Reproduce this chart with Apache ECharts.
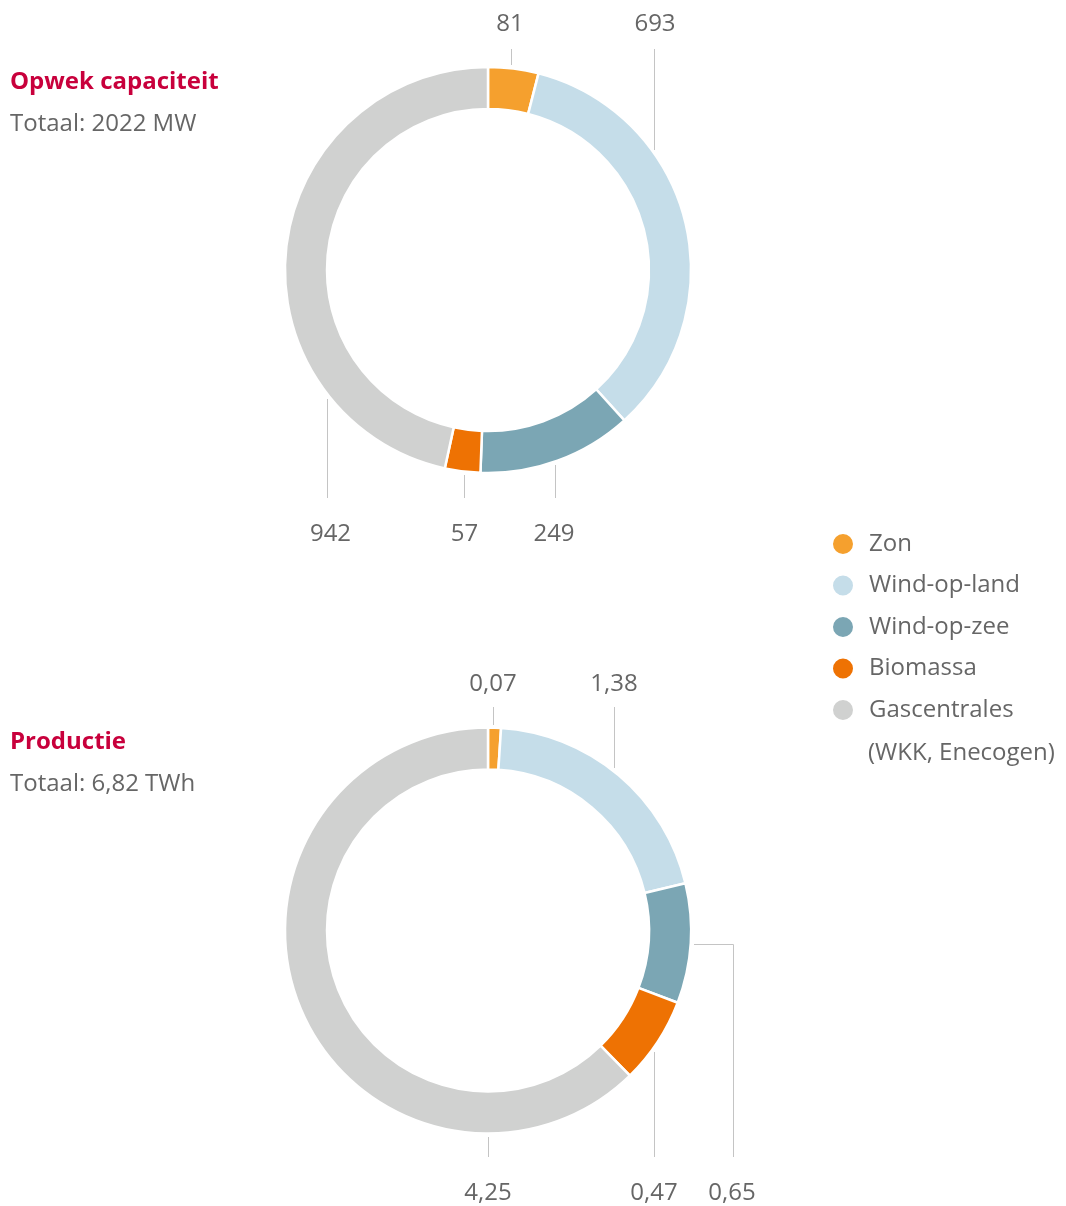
<!DOCTYPE html>
<html>
<head>
<meta charset="utf-8">
<script src="https://cdn.jsdelivr.net/npm/echarts@6/dist/echarts.min.js"></script>
<style>
html,body{margin:0;padding:0;background:#fff;}
#chart{width:1066px;height:1206px;}
</style>
</head>
<body>
<div id="chart"></div>
<script>
// ---- data ----
const categories = ['Zon', 'Wind-op-land', 'Wind-op-zee', 'Biomassa', 'Gascentrales'];
const capacityValues = [81, 693, 249, 57, 942];          // MW
const productionValues = [0.07, 1.38, 0.65, 0.47, 4.25]; // TWh
const capacityTitle = 'Opwek capaciteit';
const productionTitle = 'Productie';
const legendExtraLine = '(WKK, Enecogen)';

// ---- styles / layout ----
const colors = ['#f5a02e', '#c5dde9', '#7ba6b4', '#ee7203', '#d0d1d0'];
const FONT = '"Open Sans", "Noto Sans", sans-serif';
const FS = 24;
const TXT = '#666666';
const LINE = '#c4c4c4';

// label anchor layout (annotation positions, not marks)
const capacityGuides = [
  {lx: 510, ly: 24,  pts: [[511.5, 65], [511.5, 57], [511.5, 49]]},
  {lx: 655, ly: 24,  pts: [[654.5, 150], [654.5, 100], [654.5, 49]]},
  {lx: 554, ly: 534, pts: [[555.5, 465], [555.5, 480], [555.5, 498]]},
  {lx: 464.5, ly: 534, pts: [[464.5, 475], [464.5, 486], [464.5, 498]]},
  {lx: 330.5, ly: 534, pts: [[327.5, 399], [327.5, 450], [327.5, 498]]}
];
const productionGuides = [
  {lx: 493, ly: 684, pts: [[493.5, 725], [493.5, 716], [493.5, 707]]},
  {lx: 614, ly: 684, pts: [[614.5, 768], [614.5, 740], [614.5, 707]]},
  {lx: 732, ly: 1193, pts: [[694, 944.5], [733.5, 944.5], [733.5, 1157]]},
  {lx: 654, ly: 1193, pts: [[654.5, 1052], [654.5, 1100], [654.5, 1157]]},
  {lx: 488, ly: 1193, pts: [[488.5, 1137], [488.5, 1147], [488.5, 1157]]}
];

const fmtInt = v => String(v);
const fmtDec = v => v.toFixed(2).replace('.', ',');

const capTotal = capacityValues.reduce((a, b) => a + b, 0);
const prodTotal = productionValues.reduce((a, b) => a + b, 0);

function pieSeries(name, values, centerY, guides, fmt) {
  return {
    name: name,
    type: 'pie',
    center: [488, centerY],
    radius: [161, 203],
    startAngle: 90,
    clockwise: true,
    avoidLabelOverlap: false,
    silent: true,
    animation: false,
    emphasis: {disabled: true},
    itemStyle: {borderColor: '#ffffff', borderWidth: 2.5},
    label: {
      show: true,
      position: 'outside',
      formatter: p => fmt(p.value),
      fontFamily: FONT,
      fontSize: FS,
      color: TXT
    },
    labelLine: {show: true, length: 10, length2: 10, lineStyle: {color: LINE, width: 1}},
    labelLayout: function (params) {
      const g = guides[params.dataIndex];
      return {
        x: g.lx, y: g.ly, align: 'center', verticalAlign: 'middle',
        labelLinePoints: g.pts.map(p => p.slice())
      };
    },
    data: categories.map((c, i) => ({name: c, value: values[i]}))
  };
}

const chart = echarts.init(document.getElementById('chart'), null, {renderer: 'canvas'});
chart.setOption({
  animation: false,
  color: colors,
  title: [
    {
      text: capacityTitle,
      subtext: 'Totaal: ' + capTotal + ' MW',
      left: 10, top: 69, padding: 0, itemGap: 16,
      textStyle: {fontFamily: FONT, fontSize: FS, fontWeight: 'bold', color: '#c8003c', lineHeight: 26},
      subtextStyle: {fontFamily: FONT, fontSize: FS, color: TXT, lineHeight: 26}
    },
    {
      text: productionTitle,
      subtext: 'Totaal: ' + fmtDec(prodTotal) + ' TWh',
      left: 10, top: 729, padding: 0, itemGap: 16,
      textStyle: {fontFamily: FONT, fontSize: FS, fontWeight: 'bold', color: '#c8003c', lineHeight: 26},
      subtextStyle: {fontFamily: FONT, fontSize: FS, color: TXT, lineHeight: 26}
    }
  ],
  legend: {
    orient: 'vertical',
    left: 831, top: 532,
    padding: 0,
    icon: 'circle',
    itemWidth: 22, itemHeight: 22,
    itemGap: 17.5,
    selectedMode: false,
    data: categories,
    textStyle: {fontFamily: FONT, fontSize: FS, color: TXT, lineHeight: 22, height: 22, padding: [0, 0, 0, 10]}
  },
  graphic: [
    {
      type: 'text', left: 868, top: 741,
      style: {text: legendExtraLine, fontFamily: FONT, fontSize: FS, fill: TXT}
    }
  ],
  series: [
    pieSeries('Opwek capaciteit', capacityValues, 270, capacityGuides, fmtInt),
    pieSeries('Productie', productionValues, 930.5, productionGuides, fmtDec)
  ]
});
</script>
</body>
</html>
